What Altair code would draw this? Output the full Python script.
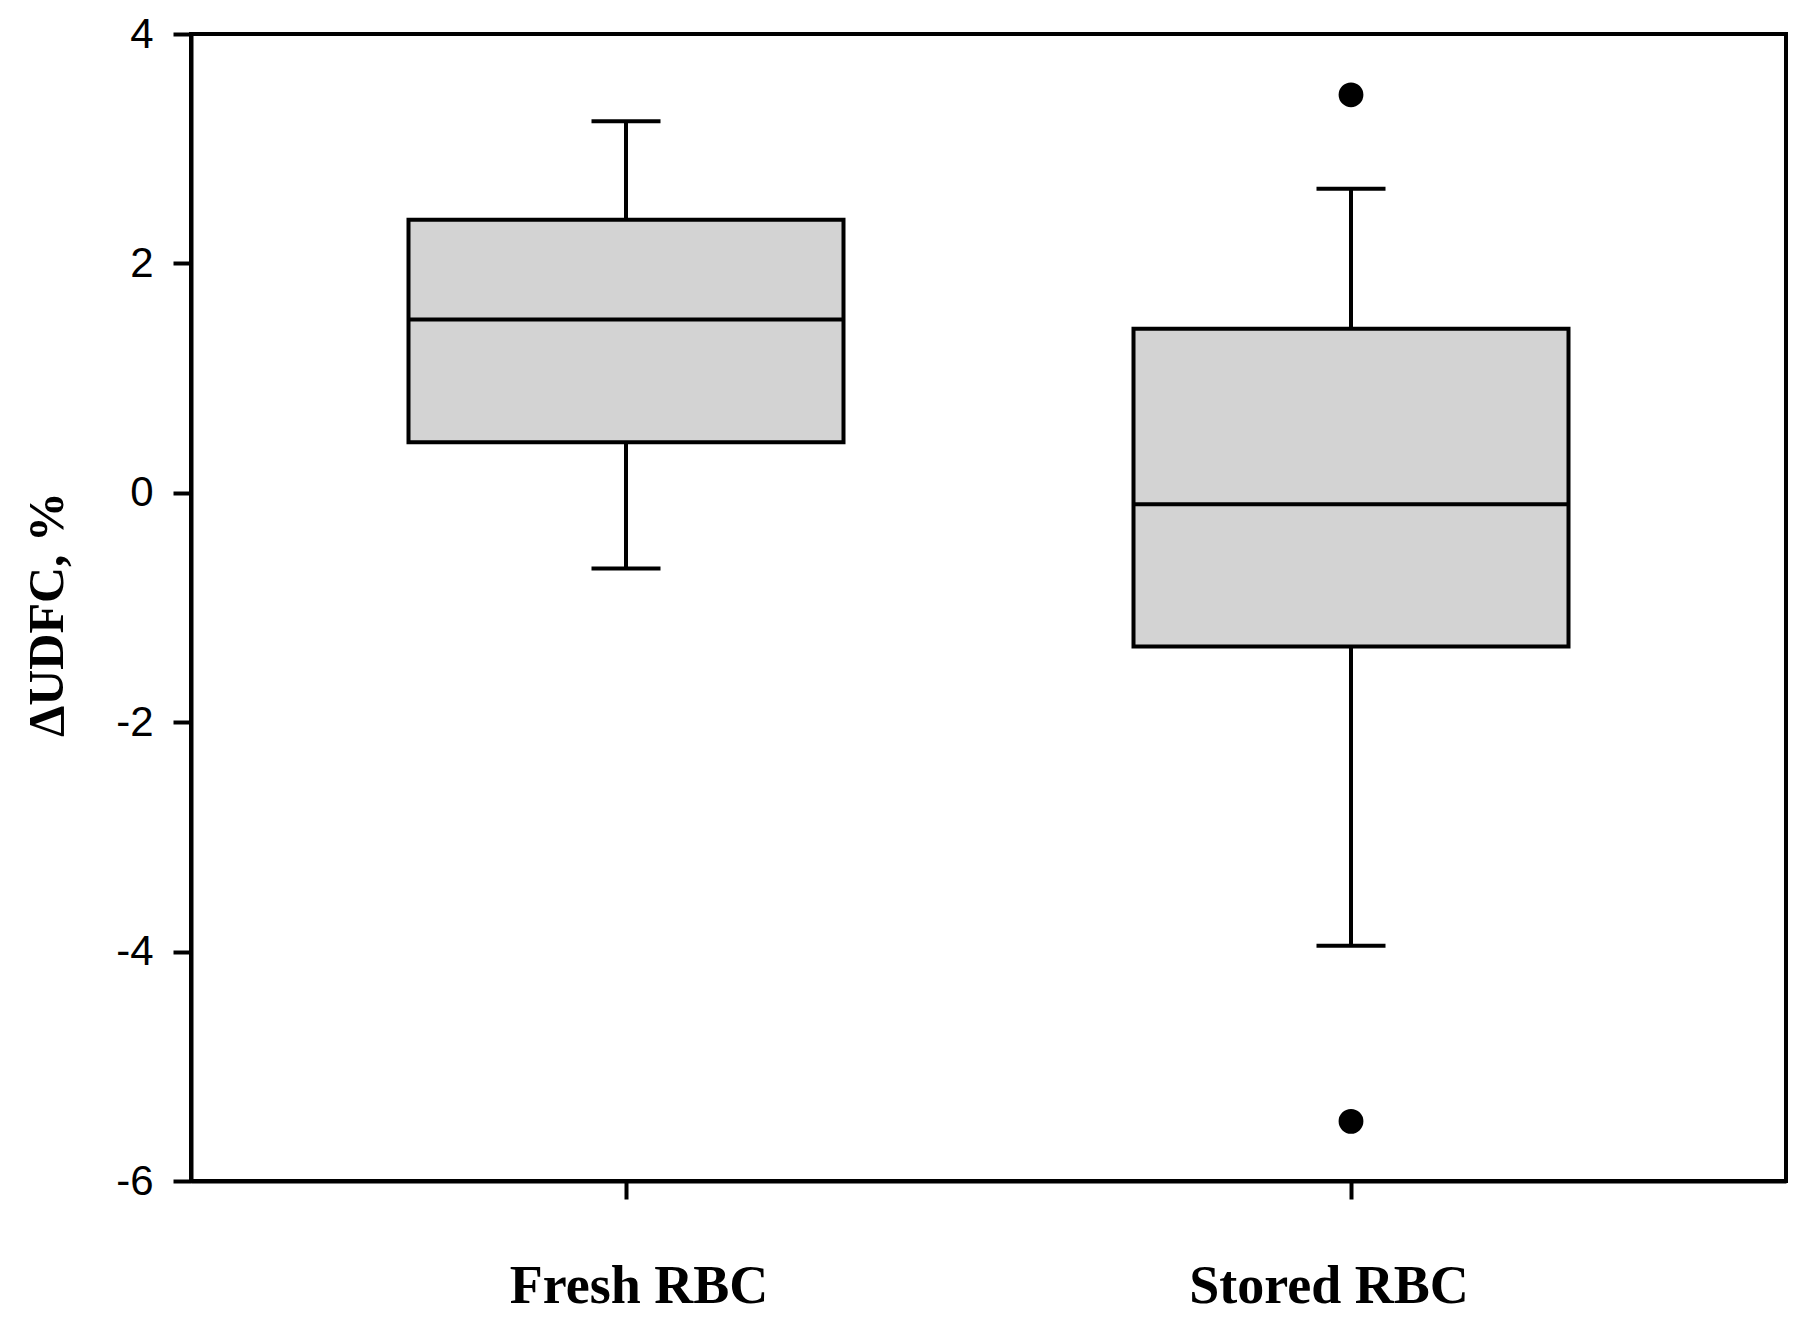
import altair as alt
import pandas as pd

groups = ["Fresh RBC", "Stored RBC"]
whisker_low = [-0.66, -3.95]
q1 = [0.44, -1.34]
median = [1.51, -0.10]
q3 = [2.38, 1.43]
whisker_high = [3.24, 2.65]

outlier_groups = ["Stored RBC", "Stored RBC"]
outlier_values = [3.47, -5.48]

y_ticks = [-6, -4, -2, 0, 2, 4]

box_df = pd.DataFrame({
    "group": groups,
    "low": whisker_low,
    "q1": q1,
    "median": median,
    "q3": q3,
    "high": whisker_high,
})
out_df = pd.DataFrame({"group": outlier_groups, "value": outlier_values})

LW = 4

x_enc = alt.X(
    "group:N",
    sort=groups,
    scale=alt.Scale(paddingInner=0, paddingOuter=0.1),
    axis=alt.Axis(
        title=None,
        labelAngle=0,
        labelFont="Liberation Serif",
        labelFontWeight="bold",
        labelFontSize=54,
        labelColor="black",
        labelPadding=60,
        labelLimit=0,
        labelOffset={"condition": {"test": "datum.value == 'Fresh RBC'", "value": 13}, "value": -22},
        tickSize=18,
        tickWidth=LW,
        tickColor="black",
        domainColor="black",
        domainWidth=LW,
        grid=False,
    ),
)

y_scale = alt.Scale(domain=[-6, 4], nice=False, zero=False)
y_axis = alt.Axis(
    title="ΔUDFC, %",
    titleFont="Liberation Serif",
    titleFontWeight="bold",
    titleFontSize=50,
    titleColor="black",
    titleAngle=-90,
    titleAlign="center",
    titleBaseline="alphabetic",
    titleX=-129,
    titleY=580,
    values=y_ticks,
    labelExpr="datum.value + ''",
    labelFont="Liberation Sans",
    labelFontSize=42,
    labelColor="black",
    labelPadding=20,
    labelLimit=0,
    tickSize=18,
    tickWidth=LW,
    tickColor="black",
    domainColor="black",
    domainWidth=LW,
    grid=False,
)

base = alt.Chart(box_df)

whiskers = base.mark_rule(color="black", strokeWidth=LW, opacity=1).encode(
    x=x_enc,
    y=alt.Y("low:Q", scale=y_scale, axis=y_axis),
    y2="high:Q",
)

boxes = base.mark_bar(
    fill="#d3d3d3", stroke="black", strokeWidth=LW, opacity=1,
    width=alt.RelativeBandSize(0.6),
).encode(
    x=x_enc,
    y=alt.Y("q1:Q", scale=y_scale),
    y2="q3:Q",
)

medians = base.mark_tick(color="black", size=436, thickness=LW, opacity=1).encode(
    x=x_enc,
    y=alt.Y("median:Q", scale=y_scale),
)

caps_high = base.mark_tick(color="black", size=69, thickness=LW, opacity=1).encode(
    x=x_enc,
    y=alt.Y("high:Q", scale=y_scale),
)
caps_low = base.mark_tick(color="black", size=69, thickness=LW, opacity=1).encode(
    x=x_enc,
    y=alt.Y("low:Q", scale=y_scale),
)

outliers = alt.Chart(out_df).mark_circle(color="black", size=616, opacity=1).encode(
    x=x_enc,
    y=alt.Y("value:Q", scale=y_scale),
)

chart = alt.layer(whiskers, boxes, medians, caps_high, caps_low, outliers).properties(
    width=1595,
    height=1147,
    background="white",
    autosize=alt.AutoSizeParams(type="none"),
    padding={"left": 183, "top": 26, "right": 7, "bottom": 134},
).configure_view(
    stroke="black",
    strokeWidth=LW,
)

chart.save("out.html", embed_options={"renderer": "svg", "actions": False})
